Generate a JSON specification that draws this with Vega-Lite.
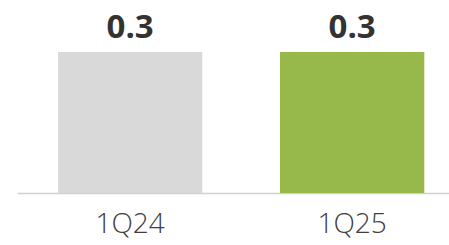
{
  "$schema": "https://vega.github.io/schema/vega-lite/v6.json",
  "autosize": {"type": "none"},
  "padding": {"left": 17, "top": 0, "right": 0, "bottom": 52},
  "width": 432,
  "height": 193,
  "background": "white",
  "config": {"view": {"stroke": null}},
  "data": {"values": [
    {"period": "1Q24", "value": 0.3, "label": "0.3"},
    {"period": "1Q25", "value": 0.3, "label": "0.3"}
  ]},
  "encoding": {
    "x": {
      "field": "period", "type": "nominal", "sort": null,
      "scale": {"paddingInner": 0.35, "paddingOuter": 0.148, "align": 0.624},
      "axis": {
        "title": null, "labelAngle": 0, "ticks": false,
        "domainColor": "#d0d0d0", "domainWidth": 1.5,
        "labelFont": "Open Sans", "labelFontSize": 28, "labelFontWeight": 300,
        "labelColor": "#404040", "labelPadding": 17
      }
    },
    "y": {
      "field": "value", "type": "quantitative",
      "scale": {"domain": [0, 0.4106]},
      "axis": null
    }
  },
  "layer": [
    {
      "mark": {"type": "bar"},
      "encoding": {
        "color": {
          "field": "period", "type": "nominal",
          "scale": {"domain": ["1Q24", "1Q25"], "range": ["#d9d9d9", "#97b84a"]},
          "legend": null
        }
      }
    },
    {
      "mark": {"type": "text", "baseline": "alphabetic", "dy": -14, "font": "Open Sans", "fontSize": 33, "fontWeight": "bold", "color": "#333333"},
      "encoding": {"text": {"field": "label"}}
    }
  ]
}
